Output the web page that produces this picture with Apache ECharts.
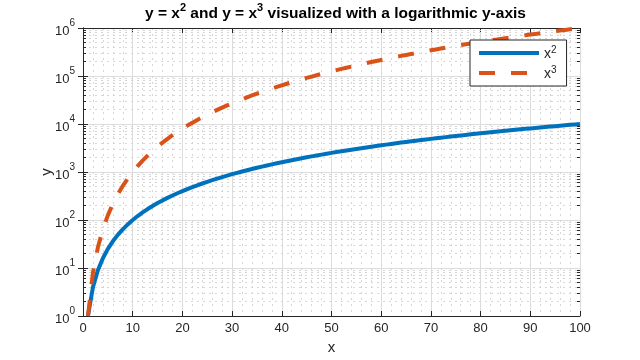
<!DOCTYPE html>
<html>
<head>
<meta charset="utf-8">
<script src="https://cdn.jsdelivr.net/npm/echarts@6/dist/echarts.min.js"></script>
<style>html,body{margin:0;padding:0;background:#fff}#c{width:640px;height:360px}</style>
</head>
<body>
<div id="c"></div>
<script>
var xValues = [1,2,3,4,5,6,7,8,9,10,11,12,13,14,15,16,17,18,19,20,21,22,23,24,25,26,27,28,29,30,31,32,33,34,35,36,37,38,39,40,41,42,43,44,45,46,47,48,49,50,51,52,53,54,55,56,57,58,59,60,61,62,63,64,65,66,67,68,69,70,71,72,73,74,75,76,77,78,79,80,81,82,83,84,85,86,87,88,89,90,91,92,93,94,95,96,97,98,99,100];
var squareValues = [1,4,9,16,25,36,49,64,81,100,121,144,169,196,225,256,289,324,361,400,441,484,529,576,625,676,729,784,841,900,961,1024,1089,1156,1225,1296,1369,1444,1521,1600,1681,1764,1849,1936,2025,2116,2209,2304,2401,2500,2601,2704,2809,2916,3025,3136,3249,3364,3481,3600,3721,3844,3969,4096,4225,4356,4489,4624,4761,4900,5041,5184,5329,5476,5625,5776,5929,6084,6241,6400,6561,6724,6889,7056,7225,7396,7569,7744,7921,8100,8281,8464,8649,8836,9025,9216,9409,9604,9801,10000];
var cubeValues = [1,8,27,64,125,216,343,512,729,1000,1331,1728,2197,2744,3375,4096,4913,5832,6859,8000,9261,10648,12167,13824,15625,17576,19683,21952,24389,27000,29791,32768,35937,39304,42875,46656,50653,54872,59319,64000,68921,74088,79507,85184,91125,97336,103823,110592,117649,125000,132651,140608,148877,157464,166375,175616,185193,195112,205379,216000,226981,238328,250047,262144,274625,287496,300763,314432,328509,343000,357911,373248,389017,405224,421875,438976,456533,474552,493039,512000,531441,551368,571787,592704,614125,636056,658503,681472,704969,729000,753571,778688,804357,830584,857375,884736,912673,941192,970299,1000000];
var seriesNames = ['x2', 'x3'];
var seriesLabels = ['{b|x}{s|2}', '{b|x}{s|3}'];
var xTicks = [0,10,20,30,40,50,60,70,80,90,100];
var yDecades = [1,10,100,1000,10000,100000,1000000];
var minorMultipliers = [2,3,4,5,6,7,8,9];

var FONT = '"Liberation Sans", Arial, Helvetica, sans-serif';
var AX = '#262626';
function minorStyle() { return { color: '#d6d6d6', width: 1, type: [2, 4] }; }

function pairs(xs, ys) { var out = []; for (var i = 0; i < xs.length; i++) out.push([xs[i], ys[i]]); return out; }

var minorGrid = [], minorTicks = [];
for (var d = 0; d < yDecades.length - 1; d++) {
  for (var m = 0; m < minorMultipliers.length; m++) {
    var v = yDecades[d] * minorMultipliers[m];
    minorGrid.push({ yAxis: v });
    minorTicks.push([{ coord: [xTicks[0], v] }, { coord: [0.6, v] }]);
    minorTicks.push([{ coord: [99.4, v] }, { coord: [xTicks[xTicks.length - 1], v] }]);
  }
}

var chart = echarts.init(document.getElementById('c'), null, { renderer: 'canvas' });
chart.setOption({
  animation: false,
  backgroundColor: '#fff',
  title: {
    text: '{a|y = x}{s|2}{a| and y = x}{s|3}{a| visualized with a logarithmic y-axis}',
    left: 140, top: -3,
    textStyle: {
      rich: {
        a: { fontSize: 15.5, fontWeight: 'bold', fontFamily: FONT, color: '#000', lineHeight: 20, verticalAlign: 'bottom' },
        s: { fontSize: 11, fontWeight: 'bold', fontFamily: FONT, color: '#000', lineHeight: 12, verticalAlign: 'top' }
      }
    }
  },
  legend: {
    orient: 'vertical', left: 470, top: 40, z: 10,
    padding: [5, 10, 5, 7],
    itemWidth: 60, itemHeight: 12, itemGap: 4, itemTextGap: 5,
    borderColor: AX, borderWidth: 1, backgroundColor: '#fff',
    itemStyle: { opacity: 0 },
    lineStyle: { width: 4 },
    data: seriesNames,
    formatter: function (name) { return seriesLabels[seriesNames.indexOf(name)]; },
    textStyle: {
      rich: {
        b: { fontSize: 14, fontFamily: FONT, color: AX, lineHeight: 16, verticalAlign: 'bottom' },
        s: { fontSize: 10, fontFamily: FONT, color: AX, lineHeight: 10, verticalAlign: 'top' }
      }
    }
  },
  grid: { left: 83, right: 60, top: 28, bottom: 40, containLabel: false },
  xAxis: [{
    type: 'value', min: 0, max: 100, interval: 10, position: 'bottom',
    name: 'x', nameLocation: 'middle', nameGap: 24, nameMoveOverlap: false,
    nameTextStyle: { fontSize: 15, fontFamily: FONT, color: AX },
    axisLine: { lineStyle: { color: AX, width: 1 } },
    axisTick: { inside: true, length: 5, lineStyle: { color: AX } },
    axisLabel: { fontSize: 13, fontFamily: FONT, color: AX, margin: 6 },
    splitLine: { show: true, lineStyle: { color: '#dcdcdc', width: 1 } },
    minorTick: { show: false, splitNumber: 5 },
    minorSplitLine: { show: true, lineStyle: minorStyle() }
  }, {
    type: 'value', min: 0, max: 100, interval: 10, position: 'top',
    axisLine: { lineStyle: { color: AX, width: 1 } },
    axisTick: { inside: true, length: 5, lineStyle: { color: AX } },
    axisLabel: { show: false }, splitLine: { show: false }
  }],
  yAxis: [{
    type: 'log', logBase: 10, min: 1, max: 1000000, interval: 1, splitNumber: 6, position: 'left',
    name: 'y', nameLocation: 'middle', nameGap: 29, nameRotate: 90, nameMoveOverlap: false,
    nameTextStyle: { fontSize: 15, fontFamily: FONT, color: AX },
    axisLine: { show: true, lineStyle: { color: AX, width: 1 } },
    axisTick: { show: true, inside: true, length: 5, lineStyle: { color: AX } },
    axisLabel: {
      margin: 8,
      formatter: function (v) { return '{b|10}{s|' + Math.round(Math.log10(v)) + '}'; },
      rich: {
        b: { fontSize: 13, fontFamily: FONT, color: AX, lineHeight: 20, verticalAlign: 'bottom' },
        s: { fontSize: 10, fontFamily: FONT, color: AX, lineHeight: 12, verticalAlign: 'top' }
      }
    },
    splitLine: { show: true, lineStyle: { color: '#dcdcdc', width: 1 } }
  }, {
    type: 'log', logBase: 10, min: 1, max: 1000000, interval: 1, splitNumber: 6, position: 'right',
    axisLine: { show: true, lineStyle: { color: AX, width: 1 } },
    axisTick: { show: true, inside: true, length: 5, lineStyle: { color: AX } },
    axisLabel: { show: false }, splitLine: { show: false }
  }],
  series: [{
    name: seriesNames[0], type: 'line', data: pairs(xValues, squareValues),
    showSymbol: false, symbol: 'none', z: 3,
    lineStyle: { color: '#0072BD', width: 4, type: 'solid' }, itemStyle: { color: '#0072BD' }
  }, {
    name: seriesNames[1], type: 'line', data: pairs(xValues, cubeValues),
    showSymbol: false, symbol: 'none', z: 3,
    lineStyle: { color: '#D95319', width: 4, type: [16, 16] }, itemStyle: { color: '#D95319' }
  }, {
    name: 'minor', type: 'line', data: [], z: 1, silent: true,
    markLine: {
      z: 1, silent: true, symbol: 'none', animation: false, label: { show: false },
      lineStyle: minorStyle(),
      data: minorGrid
    }
  }, {
    name: 'minorTicks', type: 'line', data: [], z: 4, silent: true,
    markLine: {
      z: 4, silent: true, symbol: 'none', animation: false, label: { show: false },
      lineStyle: { color: AX, width: 1, type: 'solid' },
      data: minorTicks
    }
  }]
});
</script>
</body>
</html>
